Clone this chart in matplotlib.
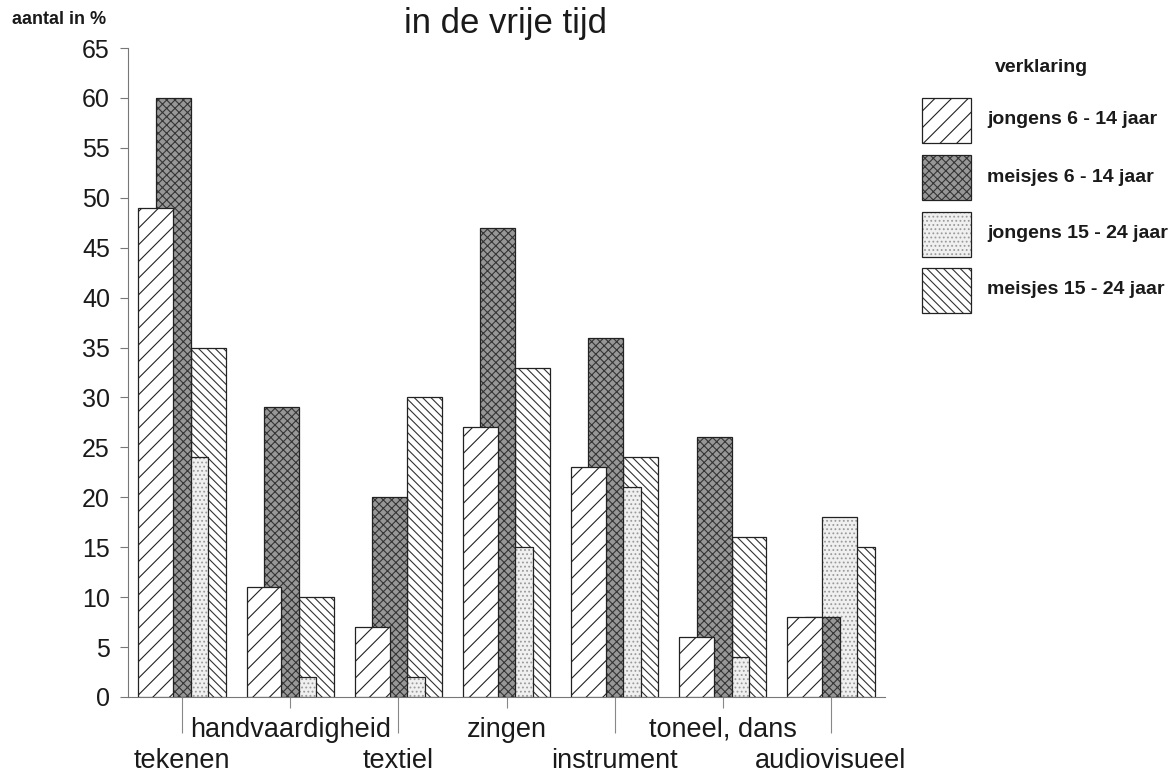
import matplotlib
matplotlib.use('Agg')
import matplotlib.pyplot as plt
from matplotlib.patches import Rectangle
import numpy as np

categories = ['tekenen', 'handvaardigheid', 'textiel', 'zingen',
              'instrument', 'toneel, dans', 'audiovisueel']
series = ['jongens 6 - 14 jaar', 'meisjes 6 - 14 jaar',
          'jongens 15 - 24 jaar', 'meisjes 15 - 24 jaar']
jongens_6_14 = [49, 11, 7, 27, 23, 6, 8]
meisjes_6_14 = [60, 29, 20, 47, 36, 26, 8]
jongens_15_24 = [24, 2, 2, 15, 21, 4, 18]
meisjes_15_24 = [35, 10, 30, 33, 24, 16, 15]
yticks = list(range(0, 70, 5))

W, H = 1176, 772
plt.rcParams['font.family'] = ['Liberation Sans', 'DejaVu Sans']
plt.rcParams['hatch.linewidth'] = 0.8

# fill colour, hatch, hatch colour per series
styles = [
    ('white', '//', '#222222'),
    ('#979797', 'xxxx', '#353535'),
    ('#f0f0f0', '....', '#9a9a9a'),
    ('white', '\\\\\\\\', '#333333'),
]

def fx(x):
    return x / W

def fy(y):
    return 1 - y / H

fig = plt.figure(figsize=(W / 100, H / 100), dpi=100)
ax = fig.add_axes([fx(128), fy(697), 757 / W, 649 / H])

x = np.arange(len(categories))
width = 0.323
step = width / 2
values = [jongens_6_14, meisjes_6_14, jongens_15_24, meisjes_15_24]

# first series on top, the others overlapped behind it
for k, vals in enumerate(values):
    face, hatch, hc = styles[k]
    pos = x + (k - 1.5) * step
    z = 10 - 2 * k
    ax.bar(pos, vals, width, color=face, edgecolor=hc, hatch=hatch,
           linewidth=0, zorder=z)
    ax.bar(pos, vals, width, fill=False, edgecolor='#222222',
           linewidth=0.9, zorder=z + 0.5)

ax.set_xlim(-0.5, len(categories) - 0.5)
ax.set_ylim(0, 65)
ax.set_yticks(yticks)
ax.set_yticklabels([str(t) for t in yticks], fontsize=18, color='#1a1a1a')
ax.tick_params(axis='y', length=6, width=0.8, color='#777777', pad=7)

# long ticks under the lower row labels, short ones under the upper row
ax.set_xticks(x[::2])
ax.set_xticks(x[1::2], minor=True)
ax.set_xticklabels([])
ax.tick_params(axis='x', which='major', length=26, width=0.8, color='#888888')
ax.tick_params(axis='x', which='minor', length=8, width=0.8, color='#888888')

for sp in ['top', 'right']:
    ax.spines[sp].set_visible(False)
for sp in ['left', 'bottom']:
    ax.spines[sp].set_color('#777777')
    ax.spines[sp].set_linewidth(0.8)

tr = ax.get_xaxis_transform()
for i, name in enumerate(categories):
    yrow = -0.0616 if i % 2 else -0.1094
    ax.text(i, yrow, name, transform=tr, ha='center', va='baseline',
            fontsize=19.5, color='#1a1a1a')

fig.text(fx(506), fy(24), 'in de vrije tijd', ha='center', va='center',
         fontsize=25, color='#1a1a1a')
fig.text(fx(12), fy(20), 'aantal in %', ha='left', va='center',
         fontsize=13, fontweight='bold', color='#1a1a1a')

# legend
fig.text(fx(1041), fy(67), 'verklaring', ha='center', va='center',
         fontsize=14, fontweight='bold', color='#1a1a1a')
box_tops = [98, 155, 212, 268]
for k, name in enumerate(series):
    face, hatch, hc = styles[k]
    y0 = box_tops[k]
    fig.add_artist(Rectangle((fx(922), fy(y0 + 45)), 49 / W, 45 / H,
                             transform=fig.transFigure, facecolor=face,
                             edgecolor=hc, hatch=hatch, linewidth=0))
    fig.add_artist(Rectangle((fx(922), fy(y0 + 45)), 49 / W, 45 / H,
                             transform=fig.transFigure, fill=False,
                             edgecolor='#222222', linewidth=0.9))
    fig.text(fx(987), fy(y0 + 22), name, ha='left', va='center',
             fontsize=14, fontweight='bold', color='#1a1a1a')

fig.savefig('out.png', dpi=100)
